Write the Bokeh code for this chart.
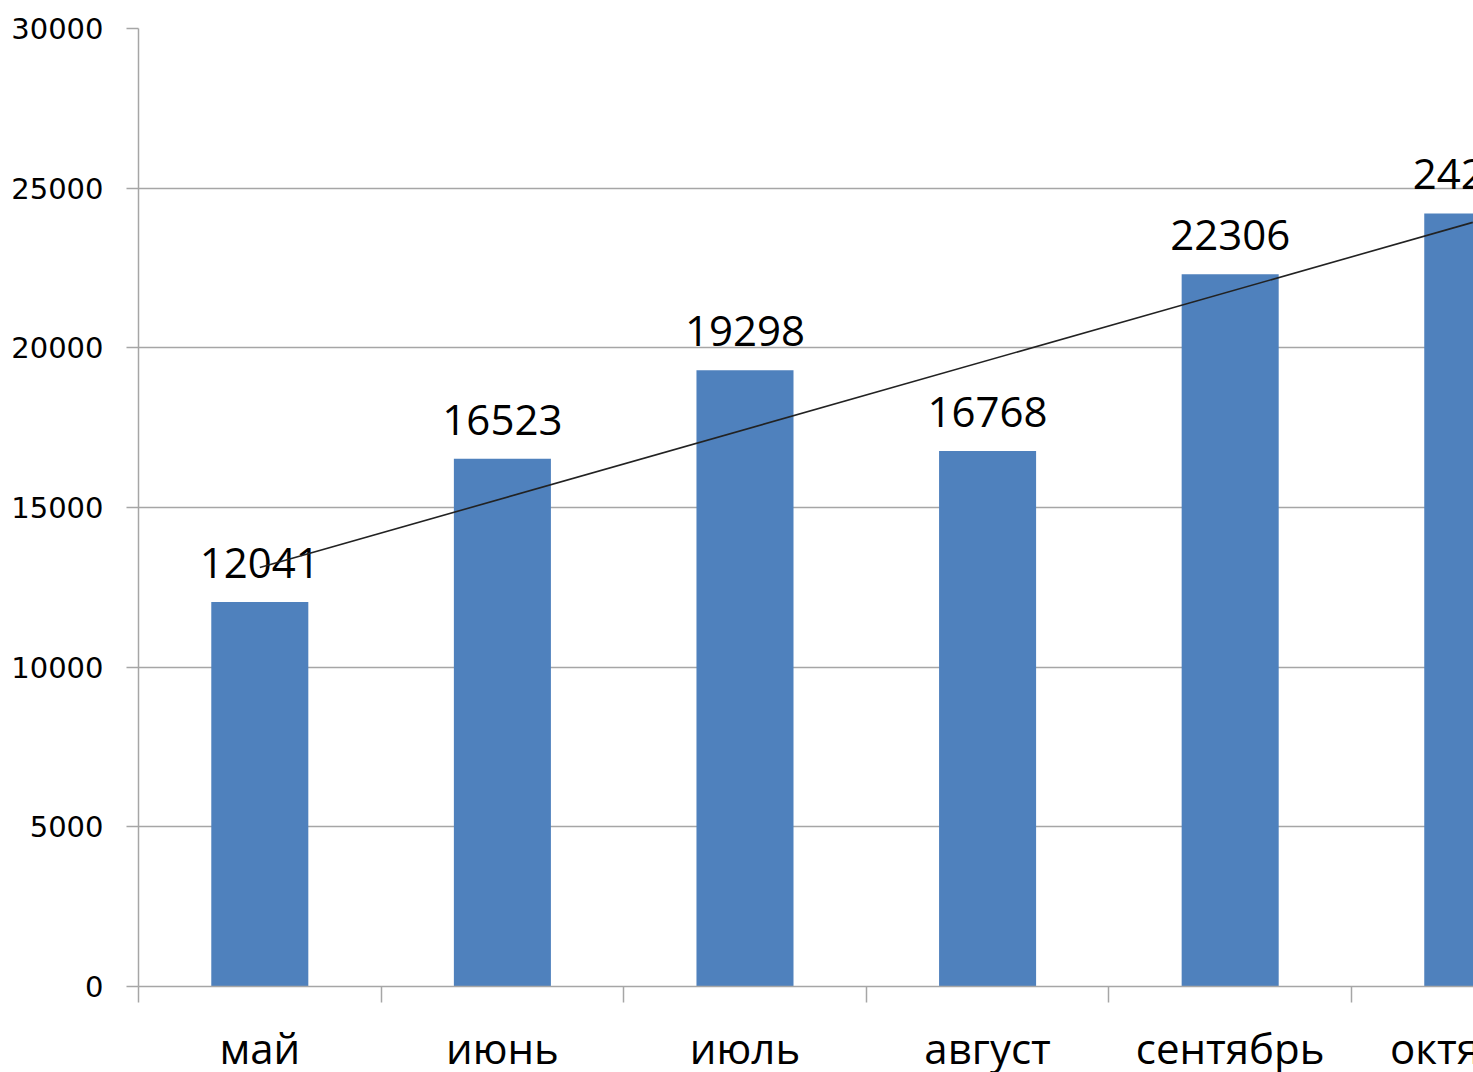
import numpy as np
from bokeh.plotting import figure
from bokeh.layouts import column
from bokeh.models import Range1d, FixedTicker, ColumnDataSource
from bokeh.core.properties import value
from bokeh.embed import file_html
from bokeh.resources import INLINE

# Data
months = ["май", "июнь", "июль", "август", "сентябрь", "октябрь"]
values = [12041, 16523, 19298, 16768, 22306, 24210]
y_ticks = [0, 5000, 10000, 15000, 20000, 25000, 30000]

centers = [i + 0.5 for i in range(len(months))]
boundaries = list(range(len(months) + 1))

xr = Range1d(0, 5.503)

p = figure(width=1473, height=1004, output_backend="svg", toolbar_location=None,
           x_range=xr, y_range=Range1d(0, 30000),
           min_border_left=138, min_border_right=0, min_border_top=28, min_border_bottom=18)
p.outline_line_color = None
p.background_fill_color = "white"
p.border_fill_color = "white"

grid_col = "#a6a6a6"

src = ColumnDataSource(dict(x=centers, top=values, label=[str(v) for v in values], month=months))
p.vbar(x="x", top="top", width=0.4, bottom=0, source=src, fill_color="#4F81BD", line_color=None)

p.text(x="x", y="top", text="label", source=src, text_align="center", text_baseline="alphabetic",
       y_offset=-39, text_font=value("Open Sans"), text_font_size="42px", text_color="black")

# linear trend line (Excel-style linear trendline over the data)
coef = np.polyfit(centers, values, 1)
tx = [centers[0], centers[-1]]
ty = [coef[0] * t + coef[1] for t in tx]
p.line(tx, ty, line_color="#222222", line_width=1.6)

# grid
p.xgrid.visible = False
p.ygrid.ticker = FixedTicker(ticks=y_ticks)
p.ygrid.grid_line_color = grid_col
p.ygrid.grid_line_width = 1.5

# y axis
p.yaxis.ticker = FixedTicker(ticks=y_ticks)
p.yaxis.axis_line_color = grid_col
p.yaxis.axis_line_width = 1.5
p.yaxis.major_tick_line_color = grid_col
p.yaxis.major_tick_line_width = 1.5
p.yaxis.major_tick_out = 12
p.yaxis.major_tick_in = 0
p.yaxis.minor_tick_line_color = None
p.yaxis.major_label_standoff = 23
p.yaxis.major_label_text_font = "DejaVu Sans"
p.yaxis.major_label_text_font_size = "29px"
p.yaxis.major_label_text_color = "black"

# x axis (tick marks at category boundaries; names drawn in the strip below)
p.xaxis.ticker = FixedTicker(ticks=centers, minor_ticks=boundaries)
p.xaxis.major_label_overrides = {c: "" for c in centers}
p.xaxis.major_label_standoff = 0
p.xaxis.axis_line_color = grid_col
p.xaxis.axis_line_width = 1.5
p.xaxis.major_tick_line_color = None
p.xaxis.major_tick_out = 0
p.xaxis.major_tick_in = 0
p.xaxis.minor_tick_line_color = grid_col
p.xaxis.minor_tick_line_width = 1.5
p.xaxis.minor_tick_out = 16
p.xaxis.minor_tick_in = 0

# category-name strip sharing the x scale (clipped at the right edge like the original)
p2 = figure(width=1473, height=68, output_backend="svg", toolbar_location=None,
            x_range=xr, y_range=Range1d(0, 68),
            x_axis_location=None, y_axis_location=None,
            min_border_left=138, min_border_right=0, min_border_top=0, min_border_bottom=0)
p2.outline_line_color = None
p2.grid.visible = False
p2.background_fill_color = "white"
p2.border_fill_color = "white"
p2.text(x="x", y=25, text="month", source=src, text_align="center", text_baseline="alphabetic",
        text_font=value("Open Sans"), text_font_size="42px", text_color="black")

layout = column(p, p2, spacing=0)
open("out.html", "w").write(file_html(layout, INLINE))
